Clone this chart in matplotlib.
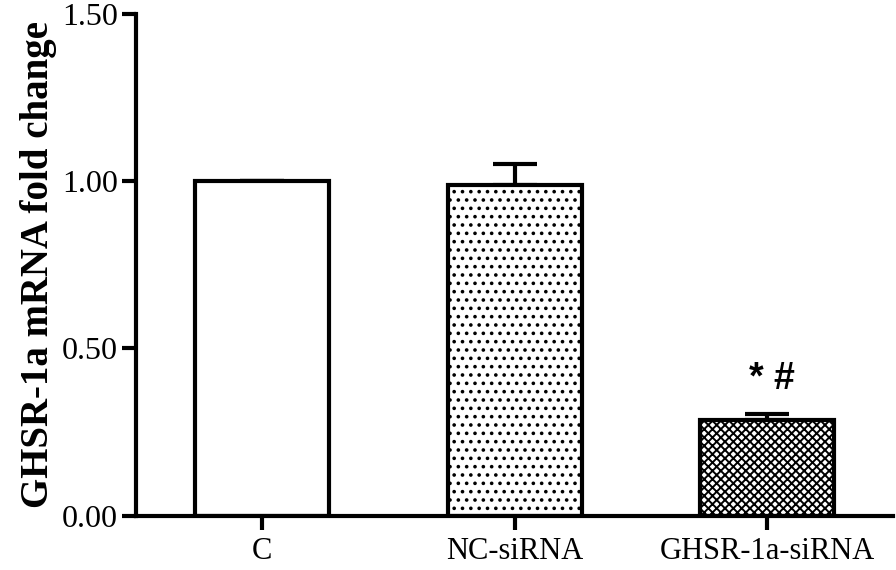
import matplotlib.pyplot as plt
import numpy as np

# data
groups = ["C", "NC-siRNA", "GHSR-1a-siRNA"]
fold_change = [1.00, 0.987, 0.285]
sem = [0.0, 0.063, 0.020]
hatches = ["", "..", "xxxx"]
sig_label = "* #"

plt.rcParams['font.family'] = ['Liberation Serif', 'DejaVu Serif']
plt.rcParams['hatch.linewidth'] = 1.4

fig = plt.figure(figsize=(8.96, 5.70), dpi=100)
ax = fig.add_axes([0.152, 0.095, 0.845, 0.881])

x = np.arange(len(groups))
bars = ax.bar(x, fold_change, width=0.53, color="white", edgecolor="black",
              linewidth=3, hatch=hatches, zorder=2)
# one-sided (upper) error bars
ax.errorbar(x, fold_change, yerr=[np.zeros(len(sem)), sem], fmt="none",
            ecolor="black", elinewidth=3, capsize=16, capthick=3, zorder=1)

# significance marks over the knockdown bar
ax.text(x[2] + 0.02, 0.41, sig_label, ha="center", va="center",
        fontsize=27, fontweight="bold", family="Liberation Sans")

ax.set_xlim(-0.5, 2.5)
ax.set_ylim(0, 1.5)
ax.set_yticks([0, 0.5, 1.0, 1.5])
ax.set_yticklabels(["0.00", "0.50", "1.00", "1.50"])
ax.set_xticks(x)
ax.set_xticklabels(groups)
ax.tick_params(axis="both", width=3, length=10, labelsize=23, direction="out")
ax.tick_params(axis="x", pad=5, labelsize=22)
ax.tick_params(axis="y", pad=3)

for side in ["top", "right"]:
    ax.spines[side].set_visible(False)
for side in ["left", "bottom"]:
    ax.spines[side].set_linewidth(3)

ax.set_ylabel("GHSR-1a mRNA fold change", fontsize=28, fontweight="bold", labelpad=4)

fig.savefig("out.png", dpi=100)
